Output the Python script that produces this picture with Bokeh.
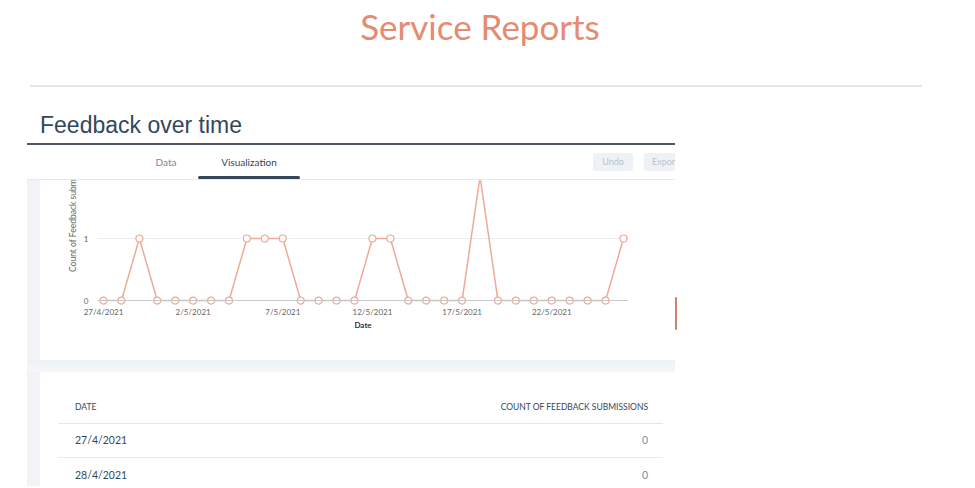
from bokeh.plotting import figure
from bokeh.layouts import column, row
from bokeh.models import Div, Range1d, FixedTicker, Span
from bokeh.embed import file_html
from bokeh.resources import INLINE

# ---------------- data ----------------
dates = ["27/4/2021", "28/4/2021", "29/4/2021", "30/4/2021", "1/5/2021", "2/5/2021",
         "3/5/2021", "4/5/2021", "5/5/2021", "6/5/2021", "7/5/2021", "8/5/2021",
         "9/5/2021", "10/5/2021", "11/5/2021", "12/5/2021", "13/5/2021", "14/5/2021",
         "15/5/2021", "16/5/2021", "17/5/2021", "18/5/2021", "19/5/2021", "20/5/2021",
         "21/5/2021", "22/5/2021", "23/5/2021", "24/5/2021", "25/5/2021", "26/5/2021"]
counts = [0, 0, 1, 0, 0, 0, 0, 0, 1, 1, 1, 0, 0, 0, 0, 1, 1, 0, 0, 0, 0, 2, 0, 0, 0, 0, 0, 0, 0, 1]
tick_positions = [0, 5, 10, 15, 20, 25]
y_ticks = [0, 1]
page_title = "Service Reports"
report_title = "Feedback over time"
tabs = ["Data", "Visualization"]
x_title = "Date"
y_title = "Count of Feedback submissions"
table_headers = ["DATE", "COUNT OF FEEDBACK SUBMISSIONS"]
table_rows = 2

LINE = "#eeaa96"
SLATE = "#33475b"


def box(left, top, width, height, inner="", style=""):
    return (f'<div style="position:absolute;left:{left}px;top:{top}px;width:{width}px;'
            f'height:{height}px;{style}">{inner}</div>')


def panel(w, hgt, parts):
    return (f'<div style="position:relative;width:{w}px;height:{hgt}px;overflow:hidden;'
            f'background:#ffffff;">' + "".join(parts) + "</div>")


# ---------------- header (page y 0..180) ----------------
h = []
h.append(box(8, 5, 944, 42, page_title,
             "text-align:center;font-family:Lato;font-weight:400;font-size:35px;"
             "line-height:42px;color:#e68b70;"))
h.append(box(30, 85, 892, 2, "", "background:#e6e6e6;"))
h.append(box(40, 112, 400, 26, report_title,
             f"font-family:'Liberation Sans';font-size:23px;line-height:26px;color:{SLATE};white-space:nowrap;"))
h.append(box(27, 143, 648, 2, "", "background:#4e5862;"))
h.append(box(116, 155, 100, 14, tabs[0],
             "text-align:center;font-family:Lato;font-size:10px;line-height:14px;color:#7a8793;"))
h.append(box(199, 155, 100, 14, tabs[1],
             f"text-align:center;font-family:Lato;font-size:10px;line-height:14px;color:{SLATE};"))
h.append(box(198, 176, 102, 3, "", f"background:{SLATE};border-radius:2px;"))
h.append(box(593, 153, 40, 18, "Undo",
             "text-align:center;font-family:Lato;font-size:9px;line-height:18px;color:#b9c3cd;"
             "background:#eef1f5;border-radius:3px;"))
h.append(box(644, 153, 31, 18, "Export",
             "overflow:hidden;white-space:nowrap;padding-left:8px;box-sizing:border-box;font-family:Lato;"
             "font-size:9px;line-height:18px;color:#b9c3cd;background:#eef1f5;border-radius:3px 0 0 3px;"))
h.append(box(27, 179, 648, 1, "", "background:#e6eaef;"))
header = Div(text=panel(971, 180, h), width=971, height=180, margin=0)

# ---------------- left / right parts of chart row (page y 180..360) ----------------
lp = [box(27, 0, 13, 180, "", "background:#f1f3f6;"),
      box(68, 92, 200, 10, y_title,
          "transform-origin:0 0;transform:rotate(-90deg);white-space:nowrap;font-family:Lato;"
          "font-size:8.5px;line-height:10px;color:#666666;")]
left = Div(text=panel(80, 180, lp), width=80, height=180, margin=0)
right = Div(text=panel(296, 180, [box(0, 117, 2, 33, "", "background:#c98471;border-radius:1px;")]),
            width=296, height=180, margin=0)

# ---------------- chart (page x 80..675) ----------------
x = list(range(len(dates)))
p = figure(width=595, height=180, title=None, output_backend="svg", toolbar_location=None,
           x_range=Range1d(-0.335, 29.28), y_range=Range1d(-0.08, 1.935),
           min_border_left=17, min_border_right=47, min_border_top=0, min_border_bottom=55)
p.outline_line_color = None
p.background_fill_color = "#ffffff"
p.border_fill_color = "#ffffff"

p.xgrid.grid_line_color = None
p.ygrid.ticker = FixedTicker(ticks=[1])
p.ygrid.grid_line_color = "#ececec"

p.xaxis.ticker = FixedTicker(ticks=tick_positions)
p.xaxis.major_label_overrides = {i: dates[i] for i in tick_positions}
p.xaxis.axis_line_color = None
p.xaxis.major_tick_line_color = None
p.xaxis.minor_tick_line_color = None
p.xaxis.major_tick_out = 0
p.xaxis.major_label_standoff = 1
p.xaxis.major_label_text_font = "Lato"
p.xaxis.major_label_text_font_size = "8px"
p.xaxis.major_label_text_color = "#666666"
p.xaxis.axis_label = x_title
p.xaxis.axis_label_text_font = "Lato"
p.xaxis.axis_label_text_font_style = "bold"
p.xaxis.axis_label_text_font_size = "8px"
p.xaxis.axis_label_text_color = "#333333"
p.xaxis.axis_label_standoff = 0

p.yaxis.ticker = FixedTicker(ticks=y_ticks)
p.yaxis.axis_line_color = None
p.yaxis.major_tick_line_color = None
p.yaxis.minor_tick_line_color = None
p.yaxis.major_tick_out = 0
p.yaxis.major_label_standoff = 9
p.yaxis.major_label_text_font = "Lato"
p.yaxis.major_label_text_font_size = "8px"
p.yaxis.major_label_text_color = "#666666"

p.add_layout(Span(location=0, dimension="width", line_color="#c8c8c8", line_width=1))
p.line(x, counts, line_color=LINE, line_width=1.5)
p.scatter(x, counts, size=7, fill_color="#ffffff", line_color=LINE, line_width=1.2)

# ---------------- table (page y 360..486) ----------------
t = []
t.append(box(27, 0, 13, 126, "", "background:#f1f3f6;"))
t.append(box(27, 0, 648, 12, "", "background:linear-gradient(#eef1f4,#f5f7f9);"))
t.append(box(75, 40, 200, 14, table_headers[0],
             f"font-family:Lato;font-size:8.5px;line-height:14px;color:{SLATE};"))
t.append(box(348, 40, 300, 14, table_headers[1],
             f"text-align:right;font-family:Lato;font-size:8.5px;line-height:14px;color:{SLATE};"))
t.append(box(58, 63, 605, 1, "", "background:#e3e7ec;"))
row_centers = [80, 115]
for i in range(table_rows):
    c = row_centers[i]
    t.append(box(75, c - 7, 200, 14, dates[i],
                 f"font-family:Lato;font-size:10.5px;line-height:14px;color:{SLATE};"))
    t.append(box(448, c - 7, 200, 14, str(counts[i]),
                 "text-align:right;font-family:Lato;font-size:10.5px;line-height:14px;color:#6f8fa3;"))
    if i < table_rows - 1:
        t.append(box(58, c + 17, 605, 1, "", "background:#e8ebef;"))
table = Div(text=panel(971, 126, t), width=971, height=126, margin=0)

layout = column(header, row(left, p, right, spacing=0), table, spacing=0)
open("out.html", "w").write(file_html(layout, INLINE))
